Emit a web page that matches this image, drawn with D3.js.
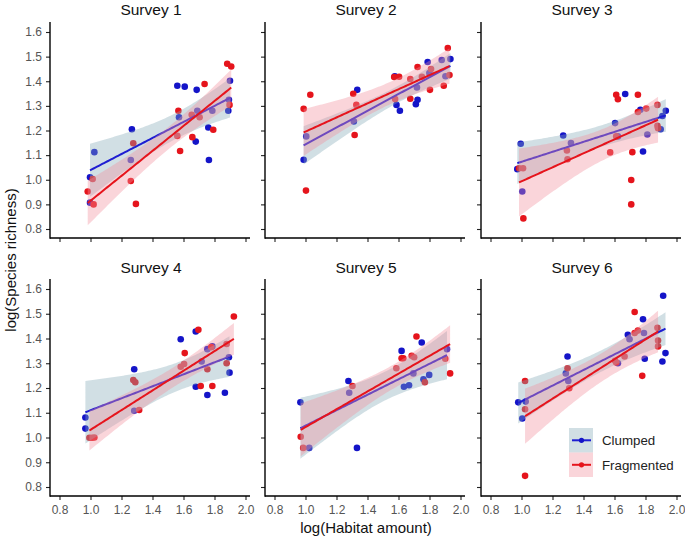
<!DOCTYPE html>
<html><head><meta charset="utf-8">
<script src="https://cdn.jsdelivr.net/npm/d3@7"></script>
<style>body{margin:0;background:#fff}svg{display:block;font-family:"Liberation Sans",Arial,sans-serif}</style>
</head><body><svg id="c" width="685" height="540"></svg>
<script>
const surveyTitles = ["Survey 1","Survey 2","Survey 3","Survey 4","Survey 5","Survey 6"];
const seriesNames = ["Clumped","Fragmented"];
const xTicks = [0.8,1.0,1.2,1.4,1.6,1.8,2.0];
const yTicks = [0.8,0.9,1.0,1.1,1.2,1.3,1.4,1.5,1.6];
const xTitle = "log(Habitat amount)";
const yTitle = "log(Species richness)";

const s1Clumped = [[0.997,1.01],[1.025,1.112],[0.997,0.907],[1.267,1.205],[1.26,1.08],[1.56,1.382],[1.608,1.378],[1.685,1.365],[1.571,1.254],[1.679,1.155],[1.689,1.28],[1.76,1.212],[1.764,1.08],[1.786,1.28],[1.9,1.402],[1.893,1.325],[1.889,1.28]];
const s1Fragmented = [[0.982,0.952],[1.014,1.003],[1.02,0.9],[1.26,0.995],[1.276,1.148],[1.293,0.902],[1.567,1.28],[1.56,1.178],[1.578,1.117],[1.653,1.264],[1.657,1.173],[1.704,1.254],[1.736,1.389],[1.792,1.203],[1.882,1.471],[1.908,1.46],[1.897,1.304]];
const s2Clumped = [[0.988,1.081],[1.005,1.176],[1.334,1.365],[1.312,1.237],[1.587,1.304],[1.609,1.28],[1.576,1.42],[1.712,1.307],[1.723,1.325],[1.719,1.375],[1.788,1.478],[1.799,1.433],[1.879,1.486],[1.935,1.49],[1.903,1.42]];
const s2Fragmented = [[0.988,1.288],[1.031,1.345],[1.003,0.956],[1.308,1.349],[1.328,1.304],[1.317,1.182],[1.572,1.417],[1.604,1.418],[1.578,1.328],[1.676,1.409],[1.676,1.329],[1.723,1.458],[1.751,1.418],[1.803,1.365],[1.81,1.45],[1.892,1.382],[1.918,1.535],[1.929,1.425]];
const s3Clumped = [[0.995,1.146],[0.973,1.043],[1.005,0.952],[1.269,1.18],[1.319,1.149],[1.604,1.23],[1.669,1.348],[1.622,1.176],[1.767,1.284],[1.784,1.115],[1.812,1.184],[1.898,1.205],[1.909,1.259],[1.931,1.28]];
const s3Fragmented = [[0.984,1.047],[1.01,1.047],[1.012,0.843],[1.293,1.119],[1.297,1.083],[1.572,1.111],[1.611,1.345],[1.622,1.327],[1.611,1.176],[1.715,1.112],[1.708,0.999],[1.708,0.9],[1.751,1.345],[1.751,1.275],[1.805,1.289],[1.877,1.304],[1.877,1.219],[1.881,1.209]];
const s4Clumped = [[0.967,1.081],[0.967,1.036],[1.282,1.276],[1.282,1.108],[1.582,1.397],[1.679,1.428],[1.679,1.205],[1.717,1.307],[1.754,1.357],[1.754,1.172],[1.786,1.368],[1.867,1.181],[1.893,1.324],[1.897,1.262]];
const s4Fragmented = [[0.993,0.999],[1.01,0.999],[1.025,1.0],[1.276,1.232],[1.289,1.223],[1.314,1.111],[1.582,1.286],[1.604,1.297],[1.608,1.341],[1.696,1.435],[1.711,1.208],[1.754,1.276],[1.779,1.365],[1.786,1.208],[1.878,1.378],[1.878,1.3],[1.925,1.489]];
const s5Clumped = [[0.967,1.142],[1.024,0.958],[1.277,1.228],[1.282,1.181],[1.332,0.958],[1.62,1.35],[1.635,1.205],[1.668,1.211],[1.696,1.259],[1.75,1.384],[1.761,1.235],[1.798,1.253],[1.913,1.357]];
const s5Fragmented = [[0.969,1.003],[0.985,0.958],[1.303,1.208],[1.586,1.28],[1.62,1.32],[1.631,1.32],[1.685,1.33],[1.701,1.324],[1.716,1.408],[1.77,1.223],[1.902,1.318],[1.933,1.259]];
const s6Clumped = [[0.979,1.142],[1.005,1.077],[1.027,1.145],[1.297,1.327],[1.286,1.259],[1.302,1.228],[1.622,1.3],[1.686,1.415],[1.697,1.397],[1.784,1.478],[1.79,1.422],[1.795,1.318],[1.914,1.573],[1.929,1.341],[1.909,1.307]];
const s6Fragmented = [[1.023,1.228],[1.023,1.114],[1.023,0.845],[1.297,1.28],[1.308,1.199],[1.604,1.31],[1.611,1.303],[1.665,1.327],[1.73,1.507],[1.73,1.422],[1.751,1.432],[1.779,1.249],[1.877,1.443],[1.881,1.392],[1.881,1.368]];

const clumpedBySurvey = [s1Clumped,s2Clumped,s3Clumped,s4Clumped,s5Clumped,s6Clumped];
const fragmentedBySurvey = [s1Fragmented,s2Fragmented,s3Fragmented,s4Fragmented,s5Fragmented,s6Fragmented];

const colors = {pt:["#1414c8","#e5141c"], line:["#1e1ed2","#e6141c"], ribbon:["#87acb9","#f2909f"]};

function tq(df){ // t 0.975 quantile approx
  const z=1.959964;
  return z+(z**3+z)/(4*df)+(5*z**5+16*z**3+3*z)/(96*df*df)+(3*z**7+19*z**5+17*z**3-15*z)/(384*df**3);
}
function fit(pts){
  const n=pts.length, xs=pts.map(p=>p[0]), ys=pts.map(p=>p[1]);
  const mx=d3.mean(xs), my=d3.mean(ys);
  let sxx=0,sxy=0; pts.forEach(([x,y])=>{sxx+=(x-mx)**2;sxy+=(x-mx)*(y-my);});
  const b=sxy/sxx, a=my-b*mx;
  let sse=0; pts.forEach(([x,y])=>{sse+=(y-a-b*x)**2;});
  const s=Math.sqrt(sse/(n-2)), t=tq(n-2);
  const [x0,x1]=d3.extent(xs);
  return d3.range(0,81).map(i=>{const x=x0+(x1-x0)*i/80, yh=a+b*x, se=s*Math.sqrt(1/n+(x-mx)**2/sxx); return {x,y:yh,lo:yh-t*se,hi:yh+t*se};});
}

const svg=d3.select("#c");
const lefts=[50,265,481];
const rows=[{top:22,bot:496,y16:32,y08:229,axisY:238},{top:279,y16:289,y08:487,axisY:496}];

surveyTitles.forEach((title,i)=>{
  const col=i%3, row=Math.floor(i/3), L=lefts[col], R=rows[row];
  const x=d3.scaleLinear().domain([0.8,2.0]).range([L+9.5,L+195.5]);
  const y=d3.scaleLinear().domain([0.8,1.6]).range([R.y08,R.y16]);
  const g=svg.append("g");
  // title
  g.append("text").attr("x",L+101).attr("y",row===0?15:273).attr("text-anchor","middle")
    .attr("font-size",15.5).attr("fill","#111").text(title);
  // axes
  const xa=d3.axisBottom(x).tickValues(xTicks).tickSize(4).tickSizeOuter(0)
    .tickFormat(row===1?d3.format(".1f"):()=> "");
  const gx=g.append("g").attr("transform",`translate(0,${R.axisY})`).call(xa);
  gx.select(".domain").remove();
  gx.append("line").attr("x1",L).attr("x2",L+200).attr("stroke","#000").attr("stroke-width",1.4);
  gx.selectAll(".tick line").attr("stroke","#222").attr("stroke-width",1.1);
  gx.selectAll(".tick text").attr("font-size",12).attr("fill","#555").attr("dy","0.95em")
    .attr("font-family","Liberation Sans,Arial,sans-serif");
  const ya=d3.axisLeft(y).tickValues(yTicks).tickSize(4).tickSizeOuter(0)
    .tickFormat(col===0?d3.format(".1f"):()=> "");
  const gy=g.append("g").attr("transform",`translate(${L},0)`).call(ya);
  gy.select(".domain").remove();
  gy.append("line").attr("y1",R.top).attr("y2",R.axisY+0.7).attr("stroke","#000").attr("stroke-width",1.4);
  gy.selectAll(".tick line").attr("stroke","#222").attr("stroke-width",1.1);
  gy.selectAll(".tick text").attr("font-size",12).attr("fill","#555").attr("x",-8)
    .attr("font-family","Liberation Sans,Arial,sans-serif");

  const groups=[clumpedBySurvey[i],fragmentedBySurvey[i]];
  // points
  groups.forEach((pts,k)=>{
    g.append("g").selectAll("circle").data(pts).join("circle")
      .attr("cx",d=>x(d[0])).attr("cy",d=>y(d[1])).attr("r",3.3).attr("fill",colors.pt[k]);
  });
  // smooths
  groups.forEach((pts,k)=>{
    const f=fit(pts);
    g.append("path").datum(f).attr("fill",colors.ribbon[k]).attr("fill-opacity",0.38)
      .attr("d",d3.area().x(d=>x(d.x)).y0(d=>y(d.lo)).y1(d=>y(d.hi)));
    g.append("path").datum(f).attr("fill","none").attr("stroke",colors.line[k]).attr("stroke-width",2)
      .attr("d",d3.line().x(d=>x(d.x)).y(d=>y(d.y)));
  });
});

// axis titles
svg.append("text").attr("x",366).attr("y",533).attr("text-anchor","middle").attr("font-size",15).attr("fill","#111").text(xTitle);
svg.append("text").attr("transform","translate(16,260) rotate(-90)").attr("text-anchor","middle").attr("font-size",15).attr("fill","#111").text(yTitle);

// legend
const lg=svg.append("g");
seriesNames.forEach((name,k)=>{
  const y0=428+k*24.5;
  lg.append("rect").attr("x",569).attr("y",y0).attr("width",24).attr("height",24.5)
    .attr("fill",colors.ribbon[k]).attr("fill-opacity",0.38);
  lg.append("line").attr("x1",572).attr("x2",591).attr("y1",y0+12.3).attr("y2",y0+12.3)
    .attr("stroke",colors.line[k]).attr("stroke-width",2);
  lg.append("circle").attr("cx",581.5).attr("cy",y0+12.3).attr("r",2.6).attr("fill",colors.pt[k]);
  lg.append("text").attr("x",602).attr("y",y0+17).attr("font-size",13.3).attr("fill","#222").text(name);
});
</script></body></html>
